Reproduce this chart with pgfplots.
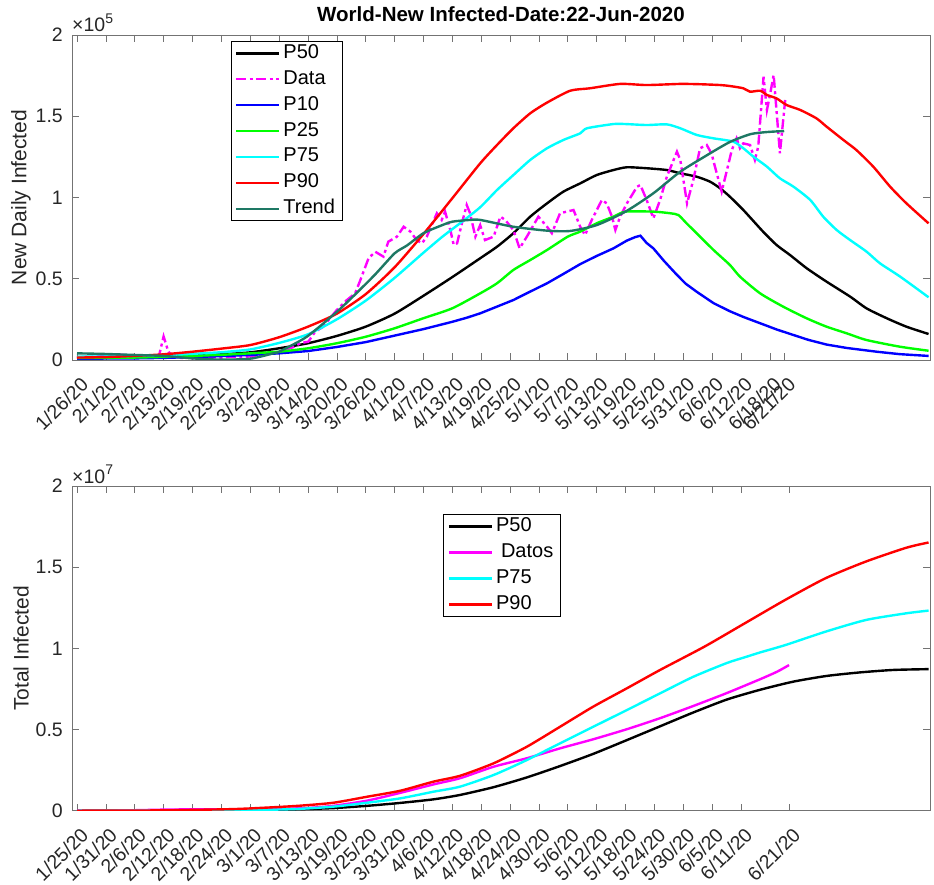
\documentclass[border=0pt]{standalone}
\usepackage{fontspec}
\setmainfont{Liberation Sans}
\usepackage{pgfplots}
\pgfplotsset{compat=1.18}
\definecolor{trend}{RGB}{30,120,100}
\definecolor{axtext}{RGB}{38,38,38}
\definecolor{mred}{RGB}{255,0,0}
\definecolor{mgreen}{RGB}{0,255,0}
\definecolor{mblue}{RGB}{0,0,255}
\definecolor{mcyan}{RGB}{0,255,255}
\definecolor{mmag}{RGB}{255,0,255}
\pgfplotsset{
 mat/.style={
  scale only axis, width=858pt,
  xmin=-1.04, xmax=177.3, ymin=0,
  clip mode=individual,
  axis line style={draw=black!55, line width=0.6pt},
  every tick/.style={draw=black!55, line width=0.6pt},
  major tick length=7pt, tick align=inside,
  xtick pos=both, ytick pos=both,
  scaled y ticks=false,
  tick label style={font=\fontsize{19.5}{20}\selectfont, text=axtext},
  xticklabel style={xshift=2.5pt, yshift=-15.5pt, rotate=45, anchor=north east, inner sep=0pt},
  yticklabel style={anchor=east, inner sep=0pt, xshift=-9pt},
  ylabel style={at={(axis description cs:-0.0594,0.5)}, anchor=center, font=\fontsize{21}{22}\selectfont, text=axtext},
  legend cell align=left,
  legend image code/.code={\draw[##1] (0pt,0pt) -- (43pt,0pt);},
  legend style={draw=black, line width=0.6pt, fill=white, font=\fontsize{20}{21}\selectfont, anchor=north west, inner xsep=4pt, inner ysep=3pt, nodes={inner xsep=3pt, inner ysep=0pt, text height=14pt, text depth=4pt}, row sep=7.9pt},
  model/.style={line width=2.4pt, smooth, tension=0.4},
 }
}
\begin{document}
\begin{tikzpicture}[x=1pt,y=1pt]
\path[use as bounding box] (0,0) rectangle (934,884);
% ---------------- top axis ----------------
\begin{axis}[mat,
  at={(72pt,524pt)}, anchor=south west, height=325pt,
  ymax=200000,
  ytick={0,50000,100000,150000,200000}, yticklabels={0,0.5,1,1.5,2},
  xtick={0,6,12,18,24,30,36,42,48,54,60,66,72,78,84,90,96,102,108,114,120,126,132,138,144,147},
  xticklabels={1/26/20,2/1/20,2/7/20,2/13/20,2/19/20,2/25/20,3/2/20,3/8/20,3/14/20,3/20/20,3/26/20,4/1/20,4/7/20,4/13/20,4/19/20,4/25/20,5/1/20,5/7/20,5/13/20,5/19/20,5/25/20,5/31/20,6/6/20,6/12/20,6/18/20,6/21/20},
  ylabel={New Daily Infected},
  title={World-New Infected-Date:22-Jun-2020},
  title style={at={(axis description cs:0.5,1)}, anchor=center, yshift=15pt, font=\bfseries\fontsize{20.5}{22}\selectfont},
  legend style={at={(rel axis cs:0.185,0.9815)}},
  legend entries={P50,Data,P10,P25,P75,P90,Trend},
]
% P50
\addplot[black, model] coordinates {(0,1800) (6,1900) (12,2000) (18,2300) (24,2800) (30,3500) (36,4700) (42,7200) (48,10300) (54,14800) (60,20500) (66,28500) (72,39500) (78,51000) (83.8,62600) (87.3,69700) (90.7,78000) (94.2,88200) (97.7,96400) (101.1,103600) (104.6,108700) (108,113800) (111.5,116900) (114.3,118600) (118.4,118000) (122.6,116900) (125.4,114900) (128.8,112800) (131.6,109700) (133.7,105600) (135.7,100500) (138.5,92300) (142.6,79000) (145.4,70800) (148.2,64600) (151.7,56400) (155.8,48200) (160.7,39000) (164.1,31800) (168.3,25700) (172.4,20500) (177,16000)};
% Data
\addplot[mmag, line width=2.4pt, dash pattern=on 10pt off 3.5pt on 3pt off 3.5pt] coordinates {(0,700) (1,1000) (2,2000) (3,1800) (4,2500) (5,2200) (6,3000) (7,2600) (8,3500) (9,3300) (10,3000) (11,2500) (12,2700) (13,2200) (14,2500) (15,2000) (16,2100) (17,2000) (18,14500) (19,5000) (20,2300) (21,1500) (22,1200) (23,1800) (24,1000) (25,1500) (26,800) (27,1200) (28,1500) (29,1700) (30,1400) (31,1800) (32,2000) (33,1700) (34,1500) (35,2000) (36,2200) (37,2600) (38,2800) (39,3500) (40,4000) (41,4300) (42,4500) (43,5500) (44,7000) (45,8000) (46.4,10300) (48.1,11300) (49.5,17400) (51.2,20500) (52.3,24600) (54,30800) (56.1,36900) (57.8,41000) (58.9,49200) (60.6,62600) (62,66600) (63.7,63600) (64.7,72800) (66.5,75900) (67.9,82000) (69.3,79000) (70.6,73800) (71.7,71800) (72.7,75900) (74.8,90300) (75.8,86200) (76.5,91300) (77.6,80000) (78.3,70800) (79,71800) (80,84100) (81,95400) (81.7,90300) (82.8,75900) (83.8,83000) (84.8,73800) (86.6,75900) (88,88200) (89,86200) (90.7,80000) (92,68700) (93.5,75900) (95.9,88200) (97.7,82000) (98.7,78000) (100.4,90300) (101.8,91300) (103.2,92300) (104.6,82000) (105.6,76900) (107,86200) (109.1,98500) (110.1,96400) (111.2,88200) (111.9,80000) (112.9,88200) (114.3,96400) (116.4,106600) (117.1,107700) (118.4,98500) (119.8,87200) (121.2,98500) (122.6,112800) (124.7,128200) (125.4,123100) (126.8,96400) (128.1,110800) (129.5,130300) (130.9,132300) (131.9,127000) (132.6,119000) (134,103600) (135.1,116900) (136.1,129200) (137.1,136400) (137.8,130300) (138.5,133300) (139.9,132300) (140.9,123100) (141.6,131300) (142.7,174300) (143.4,153800) (144.1,164100) (144.8,175400) (145.5,149700) (146.1,127200) (147.2,160000)};
% P10
\addplot[mblue, line width=2.4pt] coordinates {(0,800) (6,900) (12,1000) (18,1300) (24,1800) (30,2400) (36,3100) (42,4100) (48,5500) (54,8000) (60,11000) (66,15000) (72,19000) (78,23500) (81,26000) (83.8,28700) (87,32500) (90.7,36900) (94,41800) (97.7,47200) (101,52800) (104.6,59000) (108,64000) (111.5,68700) (114.3,73500) (116,75600) (117.1,76500) (118.4,72000) (119.8,68700) (122,61000) (124.5,53000) (126.5,47000) (128.8,42000) (132.3,35000) (135.7,30000) (138.5,26500) (142,22600) (145.5,18700) (148.9,15400) (152,12400) (155.8,9500) (160,7400) (166.2,5100) (171,3600) (177,2500)};
% P25
\addplot[mgreen, model] coordinates {(0,1200) (6,1300) (12,1500) (18,1900) (24,2500) (30,3200) (36,4100) (42,5100) (48,7200) (54,10300) (60,14300) (66,19500) (72,25700) (78,31800) (83.8,41000) (87.3,47200) (90.7,55400) (94.2,61500) (97.7,67700) (102,75900) (104.6,79000) (108,84100) (111.5,88200) (114,91300) (119.8,91300) (123.3,90300) (125,89200) (126.7,84100) (128.8,78000) (132.3,67700) (135.7,58500) (137.8,51300) (142,41000) (146.8,32800) (151.7,25600) (155.8,20500) (160,16400) (164.1,12300) (171,8200) (177,5700)};
% P75
\addplot[mcyan, model] coordinates {(0,2000) (6,2200) (12,2500) (18,3000) (24,3800) (30,4800) (36,6500) (42,10500) (48,15800) (54,25000) (60,36500) (66,50500) (72,66000) (76,76000) (80,85000) (83.8,94000) (87.3,104600) (90.7,113800) (94.2,123100) (97.7,130300) (101.1,135400) (104.6,139500) (106,142600) (111.5,145200) (114,145200) (118.4,144600) (122.6,145000) (125.4,142600) (128.8,138500) (132.3,136400) (136.4,134400) (138.5,130300) (140.6,125100) (143.4,119000) (146.1,111800) (148.9,106700) (152.4,98500) (155.1,88200) (157.9,80000) (160.7,73800) (164.1,66700) (166.9,59500) (171.1,51300) (177,38600)};
% P90
\addplot[mred, model] coordinates {(0,1500) (6,1800) (12,2500) (18,3500) (24,5100) (30,7000) (36,9200) (42,14000) (48,20500) (54,28500) (60,40500) (66,57000) (72,77500) (78,99500) (83.8,121000) (87.3,132300) (90.7,142600) (94.2,151800) (97.7,158400) (102.5,165700) (106.6,167200) (112.9,169900) (118.4,169200) (125.4,169900) (129.5,169700) (133.7,169200) (135.7,168600) (138.5,167200) (139.9,165100) (142,165700) (143.4,163100) (145.4,161000) (147.5,156900) (150.3,153900) (153.7,148700) (155.8,143600) (159.3,135400) (162,129200) (165.5,119000) (169,106700) (172.4,96400) (177,84100)};
% Trend
\addplot[trend, model] coordinates {(0,4100) (6,3700) (12,3100) (18,2500) (24,1000) (30,200) (36,800) (40.8,4100) (42,5100) (47.8,14400) (54.7,31500) (61.6,51500) (66,65600) (68.6,70500) (72,78000) (75.5,82500) (78,85100) (81.7,86200) (83.8,86200) (90.7,82000) (97.7,79600) (102.5,79400) (108,83000) (114,91300) (119.8,102600) (125.4,115900) (131.6,127200) (135.8,134300) (140,139000) (143.5,140300) (147,140900)};
\node[anchor=base west, inner sep=0pt, yshift=3pt, font=\fontsize{19.5}{20}\selectfont, text=axtext] at (rel axis cs:0,1) {×10\raisebox{0.45em}{\fontsize{14}{14}\selectfont 5}};
\end{axis}
% ---------------- bottom axis ----------------
\begin{axis}[mat,
  at={(72pt,73.3pt)}, anchor=south west, height=324.7pt,
  ymax=20000000,
  ytick={0,5000000,10000000,15000000,20000000}, yticklabels={0,0.5,1,1.5,2},
  xtick={0,6,12,18,24,30,36,42,48,54,60,66,72,78,84,90,96,102,108,114,120,126,132,138,148},
  xticklabels={1/25/20,1/31/20,2/6/20,2/12/20,2/18/20,2/24/20,3/1/20,3/7/20,3/13/20,3/19/20,3/25/20,3/31/20,4/6/20,4/12/20,4/18/20,4/24/20,4/30/20,5/6/20,5/12/20,5/18/20,5/24/20,5/30/20,6/5/20,6/11/20,6/21/20},
  ylabel={Total Infected},
  legend style={at={(rel axis cs:0.4328,0.9128)}},
  legend entries={P50,\hspace*{5pt}Datos,P75,P90},
]
\addplot[black, model] coordinates {(0,0) (10,2000) (20,8000) (30,20000) (40,55000) (46,90000) (53.3,160000) (60.3,300000) (67.2,480000) (74.1,700000) (79.6,970000) (86.6,1450000) (93.5,2050000) (100.4,2750000) (107.3,3500000) (114.3,4350000) (121.2,5200000) (128.1,6050000) (135.1,6850000) (142,7450000) (148.9,7950000) (155.8,8300000) (162.8,8520000) (169.7,8670000) (177,8720000)};
\addplot[mmag, model] coordinates {(0,1000) (10,20000) (20,75000) (30,80000) (36,90000) (42,110000) (48,170000) (53.3,300000) (60.3,620000) (67.2,1100000) (74.1,1620000) (79.6,2000000) (86.6,2710000) (93.5,3230000) (100.4,3840000) (107.3,4400000) (114.3,5020000) (121.2,5700000) (128.1,6450000) (135.1,7250000) (142,8100000) (145.5,8560000) (148,8970000)};
\addplot[mcyan, model] coordinates {(0,0) (20,10000) (30,25000) (40,60000) (46,110000) (53.3,250000) (60.3,490000) (67.2,760000) (74.1,1170000) (79.6,1480000) (86.6,2200000) (93.5,3120000) (100.4,4150000) (107.3,5170000) (114.3,6200000) (121.2,7230000) (128.1,8250000) (135.1,9100000) (138.8,9450000) (142,9750000) (147.2,10200000) (155.6,11029000) (164,11749000) (172.4,12160000) (177,12325000)};
\addplot[mred, model] coordinates {(0,0) (10,5000) (20,30000) (32.5,100000) (40,200000) (46.4,310000) (53.3,490000) (60.3,860000) (67.2,1230000) (74.1,1790000) (79.6,2150000) (86.6,2920000) (93.5,3940000) (100.4,5170000) (107.3,6410000) (114.3,7540000) (121.2,8670000) (130.4,10103000) (138.8,11543000) (147.2,12983000) (155.6,14321000) (164,15350000) (172.4,16200000) (177,16520000)};
\node[anchor=base west, inner sep=0pt, yshift=3pt, font=\fontsize{19.5}{20}\selectfont, text=axtext] at (rel axis cs:0,1) {×10\raisebox{0.45em}{\fontsize{14}{14}\selectfont 7}};
\end{axis}
\end{tikzpicture}
\end{document}
